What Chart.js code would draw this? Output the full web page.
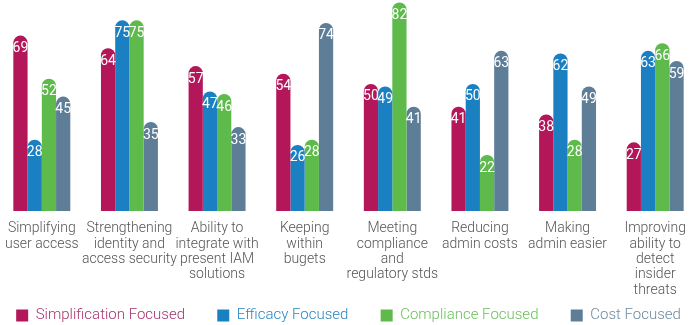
<!DOCTYPE html>
<html>
<head>
<meta charset="utf-8">
<script src="https://cdn.jsdelivr.net/npm/chart.js@4/dist/chart.umd.min.js"></script>
<style>
html,body{margin:0;padding:0;background:#fff;overflow:hidden;}
#wrap{width:690px;height:325px;position:relative;overflow:hidden;}
#c{position:absolute;left:-30px;top:0;}
</style>
</head>
<body>
<div id="wrap"><canvas id="c" width="757" height="333"></canvas></div>
<script>
const categories = [
  ["Simplifying", "user access"],
  ["Strengthening", "identity and", "access security"],
  ["Ability to", "integrate with", "present IAM", "solutions"],
  ["Keeping", "within", "bugets"],
  ["Meeting", "compliance", "and", "regulatory stds"],
  ["Reducing", "admin costs"],
  ["Making", "admin easier"],
  ["Improving", "ability to", "detect", "insider", "threats"]
];
const simplification = [69, 64, 57, 54, 50, 41, 38, 27];
const efficacy       = [28, 75, 47, 26, 49, 50, 62, 63];
const compliance     = [52, 75, 46, 28, 82, 22, 28, 66];
const cost           = [45, 35, 33, 74, 41, 63, 49, 59];
const seriesNames = ["Simplification Focused", "Efficacy Focused", "Compliance Focused", "Cost Focused"];
const barColors  = ["#B3175A", "#1B80C1", "#5DBA4B", "#5E7E97"];
const textColors = ["#A63470", "#2A86C4", "#6CC05C", "#6F8AA0"];

const valueLabels = {
  id: 'valueLabels',
  afterDatasetsDraw(chart) {
    const ctx = chart.ctx;
    ctx.save();
    ctx.fillStyle = '#ffffff';
    ctx.font = '14px "Liberation Sans Narrow", "Roboto", sans-serif';
    ctx.textAlign = 'center';
    ctx.textBaseline = 'middle';
    chart.data.datasets.forEach((ds, i) => {
      const meta = chart.getDatasetMeta(i);
      meta.data.forEach((bar, j) => {
        ctx.fillText(String(ds.data[j]), bar.x, bar.y + 13);
      });
    });
    ctx.restore();
  }
};

const series = [simplification, efficacy, compliance, cost];
new Chart(document.getElementById('c'), {
  type: 'bar',
  data: {
    labels: categories,
    datasets: series.map((d, i) => ({
      label: seriesNames[i],
      data: d,
      backgroundColor: barColors[i],
      borderRadius: {topLeft: 7, topRight: 7, bottomLeft: 0, bottomRight: 0},
      borderSkipped: 'bottom',
      categoryPercentage: 0.65,
      barPercentage: 1.0
    }))
  },
  options: {
    responsive: false,
    animation: false,
    layout: {padding: {left: 28, right: 28, top: 0, bottom: 0}},
    scales: {
      x: {
        grid: {display: false, drawTicks: false},
        border: {display: false},
        ticks: {
          color: '#555555',
          font: {family: 'Roboto', size: 14, weight: 300, lineHeight: 1.1},
          padding: 10,
          maxRotation: 0,
          autoSkip: false
        },
        afterFit(scale) {
          scale.height = 83;
          scale.paddingLeft = 0;
          scale.paddingRight = 0;
        }
      },
      y: {
        display: false,
        min: 0,
        max: 83
      }
    },
    plugins: {
      tooltip: {enabled: false},
      legend: {
        position: 'bottom',
        labels: {
          boxWidth: 12,
          boxHeight: 12,
          padding: 14,
          font: {family: 'Roboto', size: 15, weight: 300},
          generateLabels(chart) {
            const n = chart.data.datasets.length;
            return chart.data.datasets.map((ds, i) => ({
              text: i < n - 1 ? ds.label + '     ' : ds.label,
              fillStyle: barColors[i],
              strokeStyle: barColors[i],
              lineWidth: 0,
              fontColor: textColors[i],
              hidden: false,
              datasetIndex: i
            }));
          }
        }
      }
    }
  },
  plugins: [valueLabels]
});
</script>
</body>
</html>
